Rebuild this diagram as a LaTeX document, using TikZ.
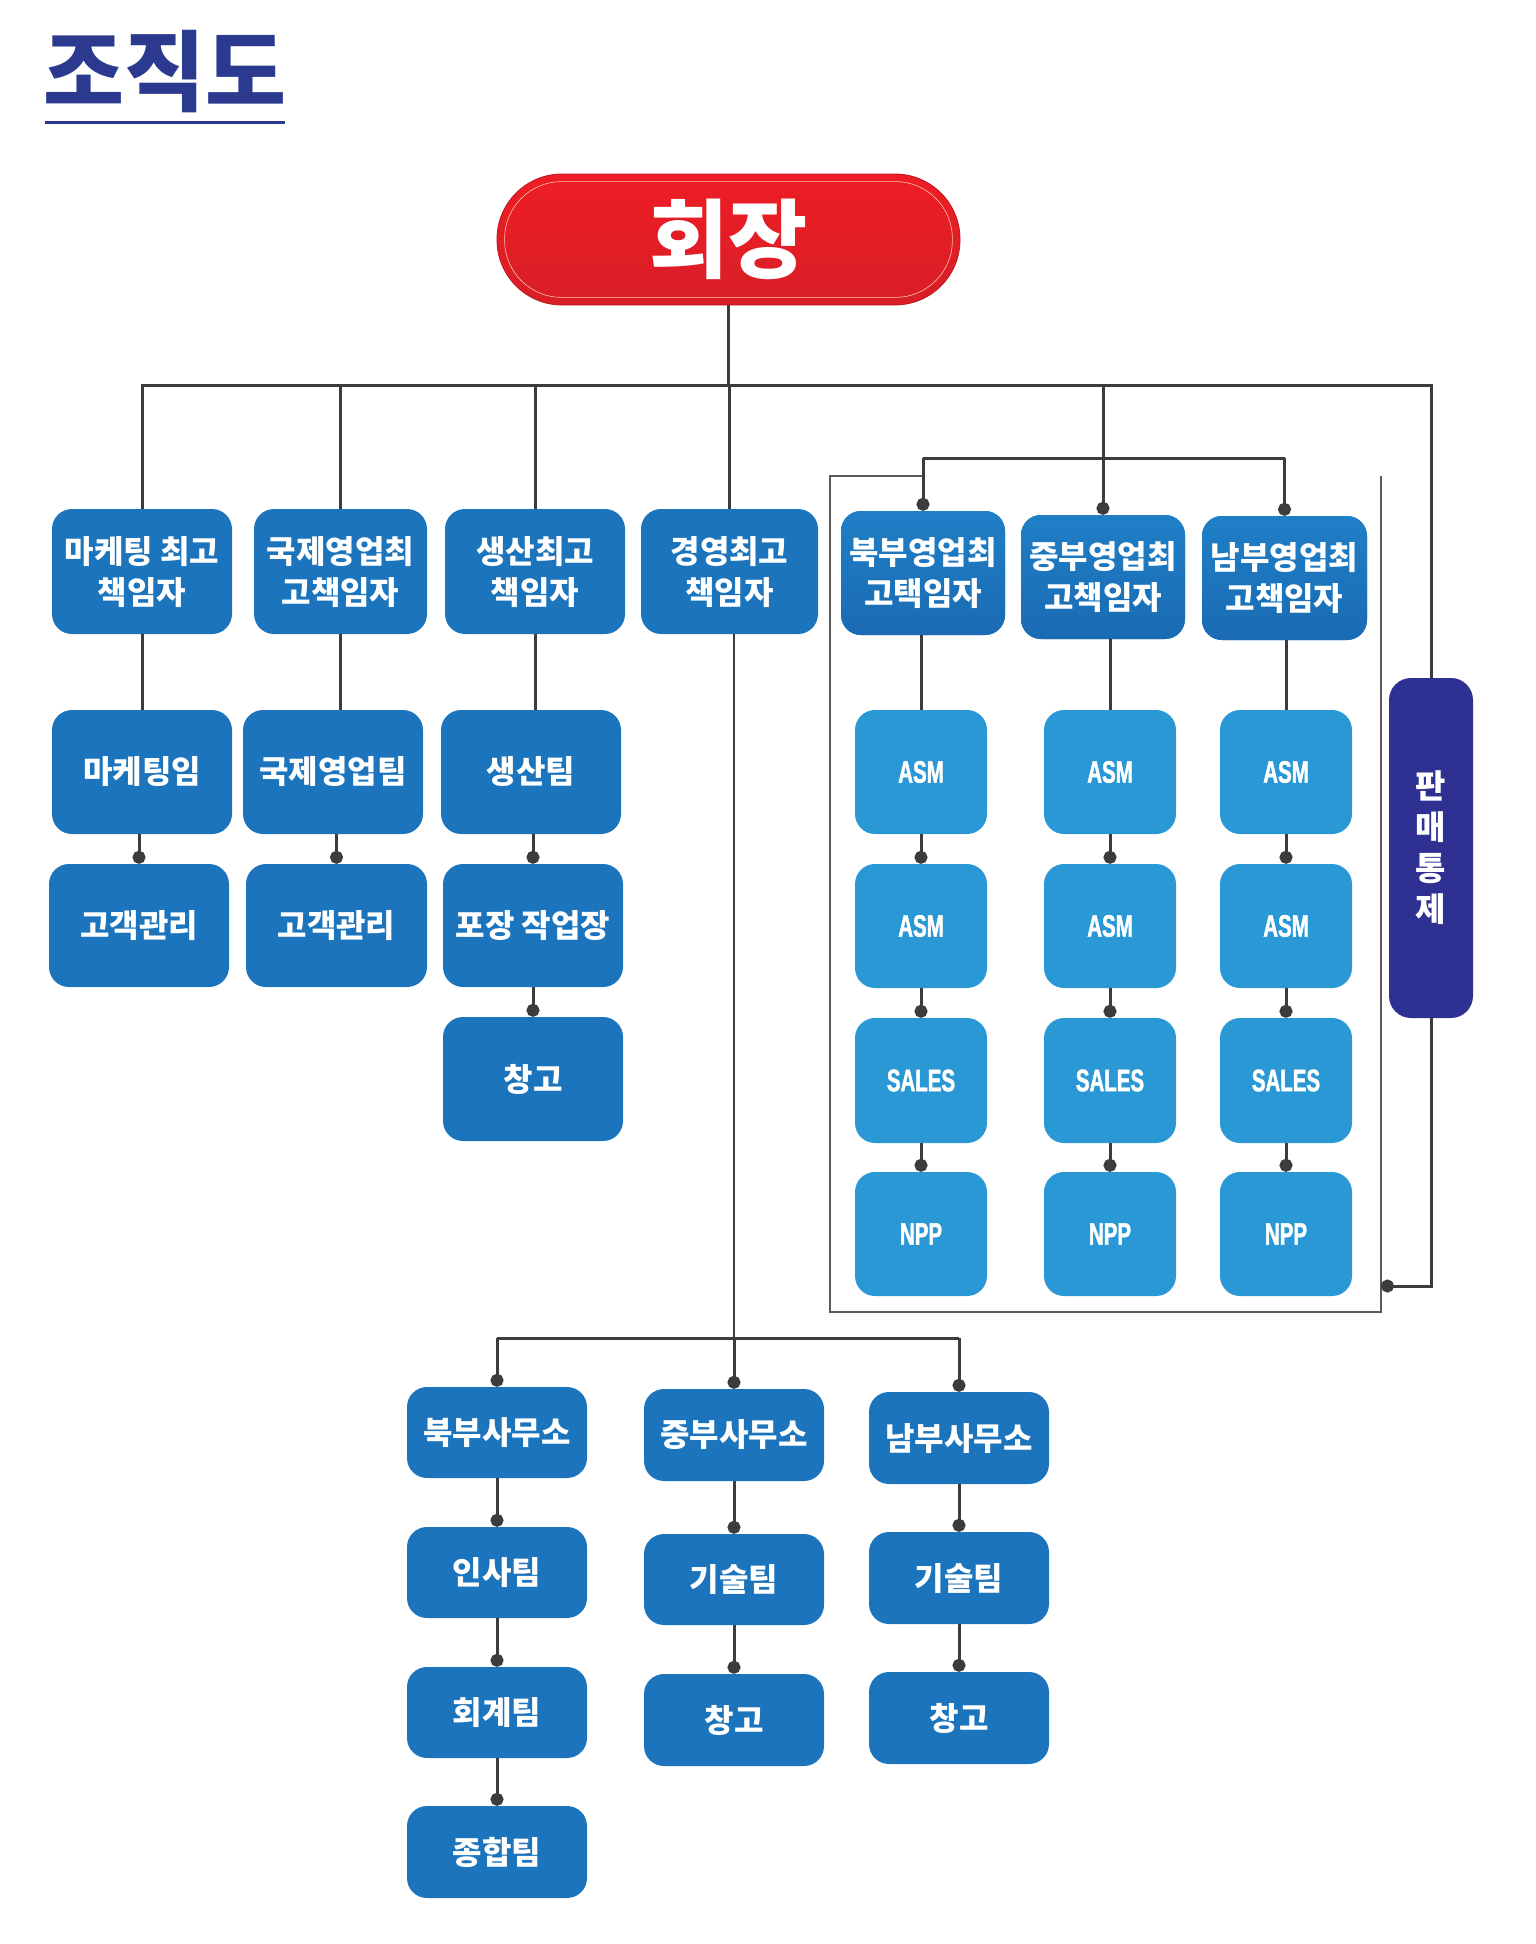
\documentclass[tikz,border=0pt]{standalone}
\usepackage{fontspec}
\newfontfamily\kr{Noto Sans CJK KR}
\newfontfamily\krblack{Noto Sans CJK KR Black}
\newfontfamily\cond{Liberation Sans Bold}[FakeStretch=0.66, FakeBold=1.5]
\usetikzlibrary{arrows.meta}
\definecolor{boxblue}{HTML}{1C75BC}
\definecolor{boxtop}{HTML}{1F7FC6}
\definecolor{boxbot}{HTML}{1A6BB3}
\definecolor{lightblue}{HTML}{2A98D4}
\definecolor{navy}{HTML}{2E3192}
\definecolor{titleblue}{HTML}{2B3A8E}
\definecolor{linegray}{HTML}{3C3C3C}
\definecolor{framegray}{HTML}{5A5A5A}
\definecolor{pilltop}{HTML}{EE1D25}
\definecolor{pillbot}{HTML}{D81E26}
\definecolor{pillline}{HTML}{F7C9A8}
\tikzset{
  box/.style={rounded corners=20pt, fill=boxblue, text=white, align=center, inner sep=0pt,
    font=\krblack\fontsize{32}{41}\selectfont},
  asm/.style={fill=lightblue, font=\cond\fontsize{31}{36}\selectfont},
  grad/.style={top color=boxtop, bottom color=boxbot},
  vbox/.style={fill=navy, rounded corners=22pt, font=\krblack\fontsize{33}{41}\selectfont},
  conn/.style={draw=linegray, line width=3pt},
  thinconn/.style={draw=linegray, line width=2pt},
  dotc/.style={conn, -{Circle[length=13pt]}},
  framel/.style={draw=framegray, line width=1.3pt},
}
\newcommand\bx[7][]{\node[box,#1,minimum width={#5-#3},minimum height={#6-#4}] (#2) at ({(#3+#5)/2},{(#4+#6)/2}) {#7};}
\begin{document}
\begin{tikzpicture}[x=1pt,y=-1pt]
\useasboundingbox (0,0) rectangle (1536,1944);
% title
\node[text=titleblue, inner sep=0pt, font=\krblack\fontsize{88}{90}\selectfont] (title) at (165,72) {조직도};
\draw[titleblue, line width=3.5pt] (45,122.5) -- (285,122.5);
% chairman
\node[rounded corners=65pt, top color=pilltop, bottom color=pillbot, draw=pilltop!80!black, line width=0.8pt,
  minimum width=463, minimum height=131, inner sep=0pt, text=white,
  font=\krblack\fontsize{86}{90}\selectfont] (ceo) at (728.5,239.5) {회장};
\draw[pillline, line width=0.6pt, rounded corners=57pt] ([shift={(8,8)}]ceo.north west) rectangle ([shift={(-8,-8)}]ceo.south east);
% left columns
\bx{m1}{52}{509}{232}{634}{마케팅 최고\\책임자}
\bx{m2}{254}{509}{427}{634}{국제영업최\\고책임자}
\bx{m3}{445}{509}{625}{634}{생산최고\\책임자}
\bx{m4}{641}{509}{818}{634}{경영최고\\책임자}
\bx{t1}{52}{710}{232}{834}{마케팅임}
\bx{t2}{243}{710}{423}{834}{국제영업팀}
\bx{t3}{441}{710}{621}{834}{생산팀}
\bx{c1}{49}{864}{229}{987}{고객관리}
\bx{c2}{246}{864}{427}{987}{고객관리}
\bx{c3}{443}{864}{623}{987}{포장 작업장}
\bx{w}{443}{1017}{623}{1141}{창고}
% sales regions
\bx[grad]{n1}{841}{511}{1005}{635}{북부영업최\\고택임자}
\bx[grad]{n2}{1021}{515}{1185}{639}{중부영업최\\고책임자}
\bx[grad]{n3}{1202}{516}{1367}{640}{남부영업최\\고책임자}
\bx[asm]{a11}{855}{710}{987}{834}{ASM}
\bx[asm]{a12}{1044}{710}{1176}{834}{ASM}
\bx[asm]{a13}{1220}{710}{1352}{834}{ASM}
\bx[asm]{a21}{855}{864}{987}{988}{ASM}
\bx[asm]{a22}{1044}{864}{1176}{988}{ASM}
\bx[asm]{a23}{1220}{864}{1352}{988}{ASM}
\bx[asm]{a31}{855}{1018}{987}{1143}{SALES}
\bx[asm]{a32}{1044}{1018}{1176}{1143}{SALES}
\bx[asm]{a33}{1220}{1018}{1352}{1143}{SALES}
\bx[asm]{a41}{855}{1172}{987}{1296}{NPP}
\bx[asm]{a42}{1044}{1172}{1176}{1296}{NPP}
\bx[asm]{a43}{1220}{1172}{1352}{1296}{NPP}
\bx[vbox]{sales}{1389}{678}{1473}{1018}{판\\매\\통\\제}
% lower offices
\bx{ls1}{407}{1387}{587}{1478}{북부사무소}
\bx{ls2}{407}{1527}{587}{1618}{인사팀}
\bx{ls3}{407}{1667}{587}{1758}{회계팀}
\bx{ls4}{407}{1806}{587}{1898}{종합팀}
\bx{lc1}{644}{1389}{824}{1481}{중부사무소}
\bx{lc2}{644}{1534}{824}{1625}{기술팀}
\bx{lc3}{644}{1674}{824}{1766}{창고}
\bx{lr1}{869}{1392}{1049}{1484}{남부사무소}
\bx{lr2}{869}{1532}{1049}{1624}{기술팀}
\bx{lr3}{869}{1672}{1049}{1764}{창고}
% coordinates
\coordinate (hub) at (728.5,385);
\coordinate (brY) at (0,458);
\coordinate (frTL) at (830,476);
\coordinate (frBL) at (830,1312);
\coordinate (frBR) at (1381,1312);
\coordinate (frTR) at (1381,476);
\coordinate (frR) at (1381,1286);
\coordinate (brLow) at (0,1338);
% frame
\draw[framel] (frTL -| n1.north) -- (frTL) -- (frBL) -- (frBR) -- (frTR);
% top connectors
\draw[conn] (ceo.south) -- (hub);
\draw[conn] (m1.north) |- (sales.north |- hub) -- (sales.north);
\draw[conn] (m2.north) -- (m2.north |- hub);
\draw[conn] (m3.north) -- (m3.north |- hub);
\draw[conn] (m4.north) -- (m4.north |- hub);
\draw[dotc] (n2.north |- hub) -- (n2.north);
\draw[conn] (n1.north |- brY) -- (n3.north |- brY);
\draw[dotc] (n1.north |- brY) -- (n1.north);
\draw[dotc] (n3.north |- brY) -- (n3.north);
\draw[dotc] (sales.south) |- (frR);
% left chains
\draw[conn] (m1.south) -- (m1.south |- t1.north);
\draw[conn] (m2.south) -- (m2.south |- t2.north);
\draw[conn] (m3.south) -- (m3.south |- t3.north);
\draw[dotc] (c1.north |- t1.south) -- (c1.north);
\draw[dotc] (c2.north |- t2.south) -- (c2.north);
\draw[dotc] (c3.north |- t3.south) -- (c3.north);
\draw[dotc] (w.north |- c3.south) -- (w.north);
% ASM chains
\foreach \c in {1,2,3}{
  \draw[conn] (a1\c.north |- n\c.south) -- (a1\c.north);
  \draw[dotc] (a1\c.south) -- (a2\c.north);
  \draw[dotc] (a2\c.south) -- (a3\c.north);
  \draw[dotc] (a3\c.south) -- (a4\c.north);
}
% management branch
\draw[thinconn] (lc1.north |- m4.south) -- (lc1.north |- brLow);
\draw[conn] (ls1.north |- brLow) -- (lr1.north |- brLow);
\draw[dotc] (ls1.north |- brLow) -- (ls1.north);
\draw[dotc] (lc1.north |- brLow) -- (lc1.north);
\draw[dotc] (lr1.north |- brLow) -- (lr1.north);
\draw[dotc] (ls1.south) -- (ls2.north);
\draw[dotc] (ls2.south) -- (ls3.north);
\draw[dotc] (ls3.south) -- (ls4.north);
\draw[dotc] (lc1.south) -- (lc2.north);
\draw[dotc] (lc2.south) -- (lc3.north);
\draw[dotc] (lr1.south) -- (lr2.north);
\draw[dotc] (lr2.south) -- (lr3.north);
\end{tikzpicture}
\end{document}
